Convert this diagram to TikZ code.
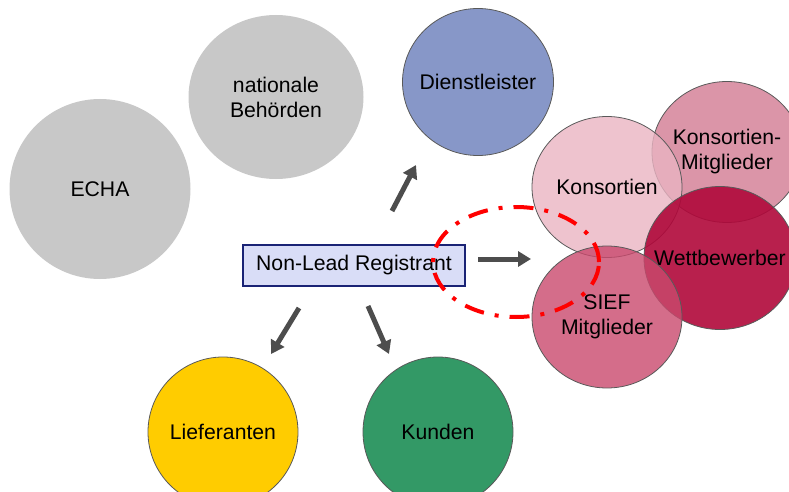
\documentclass[tikz,border=0pt]{standalone}
\usepackage{fontspec}
\setmainfont{Liberation Sans}
\usetikzlibrary{shapes.geometric,arrows.meta}

\definecolor{grayball}{HTML}{C8C8C8}
\definecolor{blueball}{HTML}{8797C8}
\definecolor{yellowball}{HTML}{FFCC00}
\definecolor{greenball}{HTML}{339966}
\definecolor{boxfill}{HTML}{D9DDF7}
\definecolor{boxline}{HTML}{1A2375}
\definecolor{arrowgray}{HTML}{4D4D4D}
\definecolor{sieflight}{HTML}{EAB4C2}
\definecolor{siefmid}{HTML}{D27A92}
\definecolor{siefdark}{HTML}{C9496D}
\definecolor{siefdeep}{HTML}{B0083A}

\tikzset{
  ball/.style={ellipse, draw=black!65, line width=0.8pt, inner sep=-30pt,
    align=center, font=\fontsize{21.2}{25}\selectfont},
  party/.style={ball, fill opacity=0.8, text opacity=1},
  regbox/.style={draw=boxline, line width=2pt, fill=boxfill,
    minimum width=222pt, minimum height=41pt, font=\fontsize{21.2}{25}\selectfont},
  fatarrow/.style={arrowgray, line width=5pt, -{Triangle[length=13pt,width=15pt]}}
}

\begin{document}
\begin{tikzpicture}[x=1pt,y=-1pt]

  \clip (0,0) rectangle (789,492);

  % authorities
  \node[ball, fill=grayball, draw=none, minimum width=181pt, minimum height=180pt] (echa) at (100,189) {ECHA};
  \node[ball, fill=grayball, draw=none, minimum width=175pt, minimum height=164pt] (behoerden) at (276,97) {nationale\\Behörden};

  % partners
  \node[ball, fill=blueball, minimum width=151pt, minimum height=147pt] (dienst) at (478,82) {Dienstleister};
  \node[ball, fill=yellowball, minimum width=150pt, minimum height=150pt] (liefer) at (223,432) {Lieferanten};
  \node[ball, fill=greenball, minimum width=150pt, minimum height=150pt] (kunden) at (438,432) {Kunden};

  % SIEF group
  \node[party, fill=siefmid, minimum width=150pt, minimum height=141pt] (kmitgl) at (727,152) {Konsortien-\\Mitglieder};
  \node[party, fill=sieflight, minimum width=150pt, minimum height=141pt] (konsort) at (607,187) {Konsortien};
  \node[party, fill=siefdeep, fill opacity=0.9, minimum width=152pt, minimum height=143pt] (wettbew) at (720,258) {Wettbewerber};
  \node[party, fill=siefdark, minimum width=150pt, minimum height=142pt] (sief) at (607,317) {SIEF\\Mitglieder};

  % registrant
  \node[regbox] (reg) at (354,265.5) {Non-Lead Registrant};

  %arrows
  \coordinate (upA) at (392,211);
  \coordinate (upB) at (416,165);
  \coordinate (rightA) at (478,259);
  \coordinate (rightB) at (531,259);
  \coordinate (leftA) at (299,308);
  \coordinate (leftB) at (271,354);
  \coordinate (downA) at (368,306);
  \coordinate (downB) at (389,354);
  \draw[fatarrow] (upA) -- (upB);
  \draw[fatarrow] (rightA) -- (rightB);
  \draw[fatarrow] (leftA) -- (leftB);
  \draw[fatarrow] (downA) -- (downB);

  %non-lead area
  \draw[red, line width=4pt, dash pattern=on 20pt off 11pt on 4pt off 11pt]
    (516,262) ellipse (83pt and 55pt);

\end{tikzpicture}
\end{document}
